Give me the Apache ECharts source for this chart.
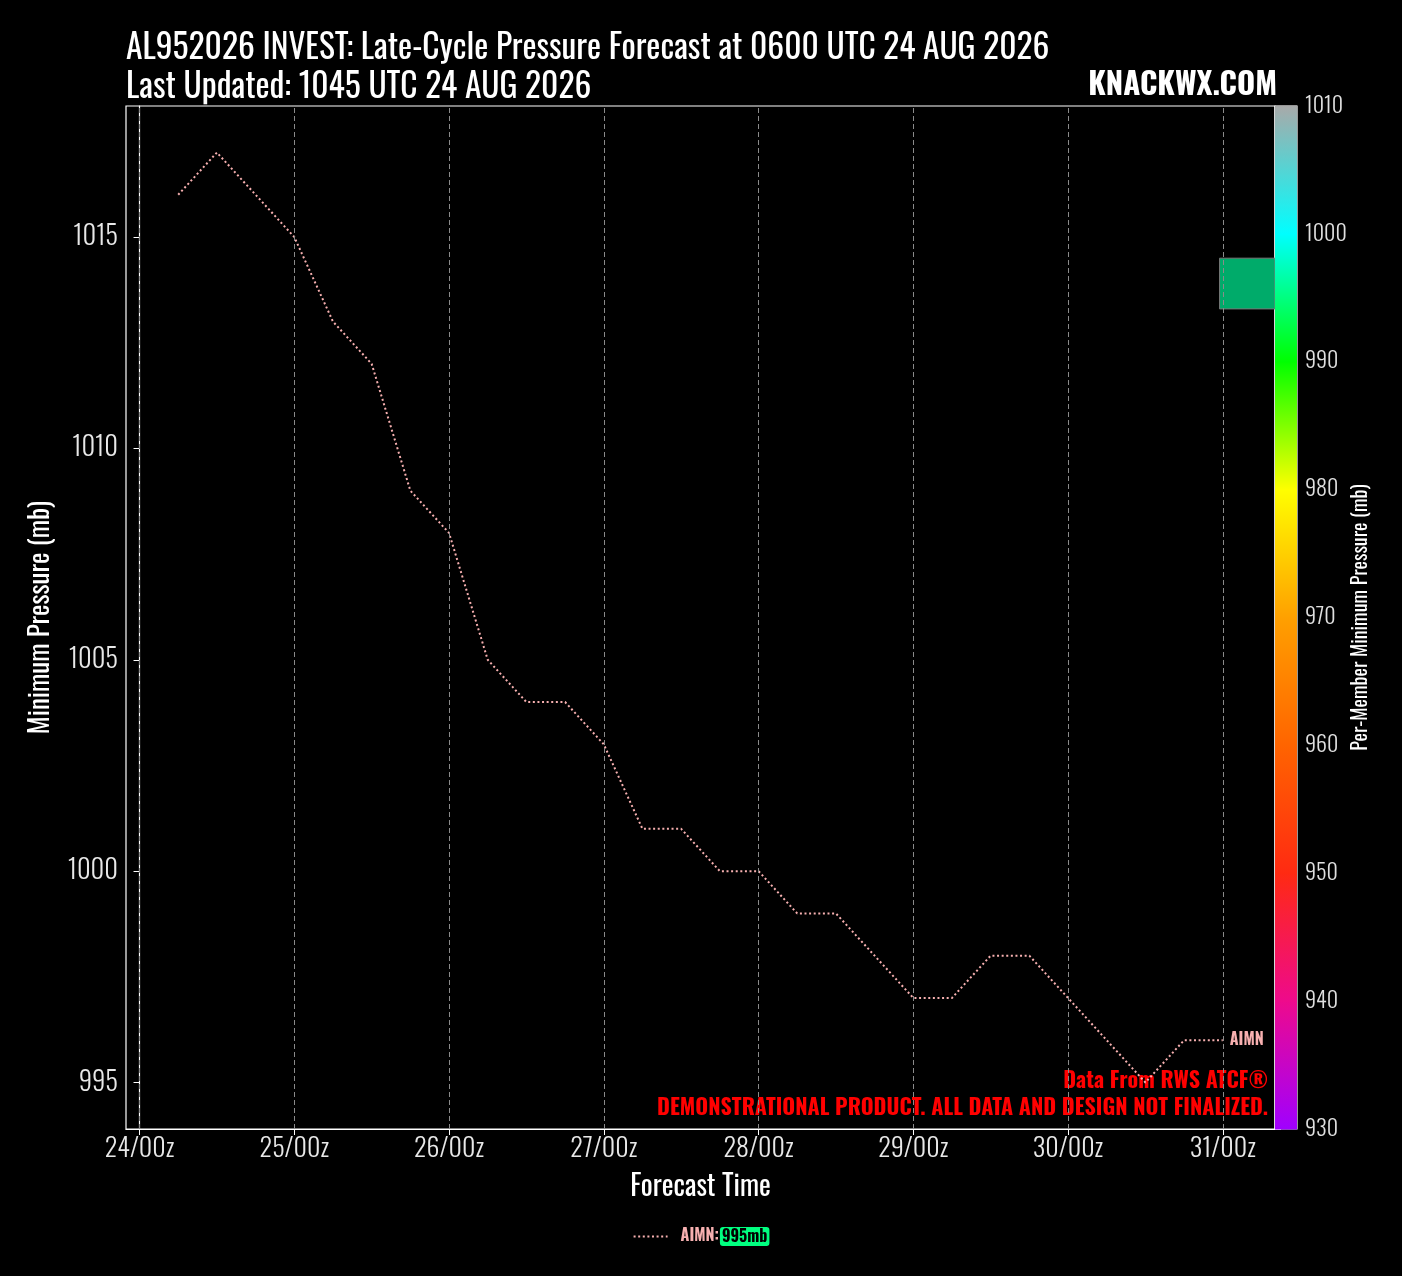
<!DOCTYPE html>
<html>
<head>
<meta charset="utf-8">
<script src="https://cdn.jsdelivr.net/npm/echarts@6/dist/echarts.min.js"></script>
<style>
  html, body { margin: 0; padding: 0; background: #000; }
  #chart { width: 1402px; height: 1276px; }
</style>
</head>
<body>
<div id="chart"></div>
<script>
// forecast hours from 24/00z and AIMN minimum pressure
var hours = [6, 12, 18, 24, 30, 36, 42, 48, 54, 60, 66, 72, 78, 84, 90, 96, 102, 108, 114, 120, 126, 132, 138, 144, 150, 156, 162, 168];
var pressure = [1016, 1017, 1016, 1015, 1013, 1012, 1009, 1008, 1005, 1004, 1004, 1003, 1001, 1001, 1000, 1000, 999, 999, 998, 997, 997, 998, 998, 997, 996, 995, 996, 996];

var tickHours = [0, 24, 48, 72, 96, 120, 144, 168];
var tickLabels = ['24/00z', '25/00z', '26/00z', '27/00z', '28/00z', '29/00z', '30/00z', '31/00z'];
var yTicks = [995, 1000, 1005, 1010, 1015];

// colour bar for per-member minimum pressure
var cbarStops = [930, 940, 950, 960, 970, 980, 990, 1000, 1010];
var cbarColors = ['#a000ff', '#ee0a8c', '#ff2a12', '#ff6400', '#ffa000', '#ffff00', '#00ff00', '#00ffff', '#a9a9a9'];

// shaded box next to the colour bar (hours, mb)
var boxHours = [167.5, 180];
var boxMb = [1013.3, 1014.5];

var FONT = "Oswald, 'Liberation Sans Narrow', 'DejaVu Sans Condensed', 'Roboto Condensed', sans-serif";
var LINE_COLOR = '#f7b0b0';

// matplotlib-like 5% margins
var xMin = Math.min.apply(null, hours), xMax = Math.max.apply(null, hours);
var yMin = Math.min.apply(null, pressure), yMax = Math.max.apply(null, pressure);
var xPad = (xMax - xMin) * 0.05, yPad = (yMax - yMin) * 0.05;

var seriesData = hours.map(function (h, i) { return [h, pressure[i]]; });
var minP = yMin;

var segs = [];
for (var i = 0; i < cbarStops.length - 1; i++) segs.push([i]);

var chart = echarts.init(document.getElementById('chart'));

var option = {
    backgroundColor: '#000',
    animation: false,
    textStyle: { fontFamily: FONT },
    title: {
        text: 'AL952026 INVEST: Late-Cycle Pressure Forecast at 0600 UTC 24 AUG 2026\nLast Updated: 1045 UTC 24 AUG 2026',
        left: 121, top: 24,
        textStyle: { color: '#fff', fontSize: 33.5, fontWeight: 'normal', lineHeight: 39, fontFamily: FONT }
    },
    legend: {
        left: 'center', top: 1222,
        itemWidth: 34, itemHeight: 14, itemGap: 10,
        data: ['AIMN'],
        itemStyle: { opacity: 0 },
        formatter: function () { return '{n|AIMN:}{v|' + minP + 'mb}'; },
        textStyle: {
            fontFamily: FONT,
            rich: {
                n: { color: LINE_COLOR, fontSize: 16, fontWeight: 'bold', fontFamily: FONT, padding: [0, 1, 0, 8] },
                v: { color: '#000', fontSize: 16, fontWeight: 'bold', fontFamily: FONT, backgroundColor: '#00ff80', borderRadius: 3, padding: [2, 2, 1, 2] }
            }
        }
    },
    grid: [
        { left: 126, top: 106, width: 1149, height: 1023, show: true, borderColor: '#fff', borderWidth: 1.2, backgroundColor: '#000' },
        { left: 1275, top: 106, width: 22, height: 1023, show: true, borderColor: '#fff', borderWidth: 1.2 }
    ],
    xAxis: [{
        type: 'value', gridIndex: 0,
        min: xMin - xPad, max: xMax + xPad,
        name: 'Forecast Time', nameLocation: 'middle', nameGap: 44,
        nameTextStyle: { color: '#fff', fontSize: 28, fontFamily: FONT },
        axisLine: { lineStyle: { color: '#fff', width: 1.2 } },
        axisTick: { show: true, length: 6, lineStyle: { color: '#fff' }, customValues: tickHours },
        axisLabel: {
            color: '#e8e8e8', fontSize: 26, fontWeight: 300, margin: 7, customValues: tickHours,
            formatter: function (v) { return tickLabels[tickHours.indexOf(v)]; }
        },
        splitLine: { show: false }
    }, {
        type: 'value', gridIndex: 1, min: 0, max: 1, show: false
    }],
    yAxis: [{
        type: 'value', gridIndex: 0,
        min: yMin - yPad, max: yMax + yPad,
        name: 'Minimum Pressure (mb)', nameLocation: 'middle', nameGap: 72,
        nameTextStyle: { color: '#fff', fontSize: 27, fontFamily: FONT },
        axisLine: { show: true, lineStyle: { color: '#fff', width: 1.2 } },
        axisTick: { show: true, length: 6, lineStyle: { color: '#fff' }, customValues: yTicks },
        axisLabel: {
            color: '#e8e8e8', fontSize: 26.5, fontWeight: 300, margin: 8, customValues: yTicks,
            formatter: function (v) { return String(v); }
        },
        splitLine: { show: false }
    }, {
        type: 'value', gridIndex: 1, position: 'right',
        min: cbarStops[0], max: cbarStops[cbarStops.length - 1], interval: 10,
        name: 'Per-Member Minimum Pressure (mb)', nameLocation: 'middle', nameGap: 50, nameRotate: 90,
        nameTextStyle: { color: '#fff', fontSize: 20, fontFamily: FONT },
        axisLine: { show: false },
        axisTick: { show: true, length: 6, lineStyle: { color: '#fff' } },
        axisLabel: {
            color: '#e0e0e0', fontSize: 22, fontWeight: 300, margin: 8,
            formatter: function (v) { return String(v); }
        },
        splitLine: { show: false }
    }],
    series: [{
        name: 'AIMN',
        type: 'line',
        xAxisIndex: 0, yAxisIndex: 0,
        data: seriesData,
        symbol: 'none',
        lineStyle: { color: LINE_COLOR, width: 2, type: [2, 2.6] },
        itemStyle: { color: LINE_COLOR },
        endLabel: {
            show: true, formatter: 'AIMN', distance: 7,
            color: LINE_COLOR, fontSize: 16, fontWeight: 'bold', fontFamily: FONT
        },
        markLine: {
            silent: true, symbol: 'none', label: { show: false },
            lineStyle: { color: '#8a8a8a', type: [5, 3], width: 1 },
            data: tickHours.map(function (h) { return { xAxis: h }; })
        },
        markArea: {
            silent: true,
            itemStyle: { color: 'rgba(0,178,110,0.96)', borderColor: '#777', borderWidth: 1 },
            data: [[{ coord: [boxHours[0], boxMb[1]] }, { coord: [xMax + xPad, boxMb[0]] }]]
        },
        z: 3
    }, {
        type: 'custom',
        xAxisIndex: 1, yAxisIndex: 1,
        data: segs,
        silent: true,
        renderItem: function (params, api) {
            var k = api.value(0);
            var lo = cbarStops[k], hi = cbarStops[k + 1];
            var p0 = api.coord([0, lo]);
            var p1 = api.coord([1, hi]);
            return {
                type: 'rect',
                shape: { x: p0[0], y: p1[1] - 0.5, width: p1[0] - p0[0], height: p0[1] - p1[1] + 1 },
                style: {
                    fill: {
                        type: 'linear', x: 0, y: 1, x2: 0, y2: 0,
                        colorStops: [{ offset: 0, color: cbarColors[k] }, { offset: 1, color: cbarColors[k + 1] }]
                    }
                }
            };
        }
    }],
    graphic: [{
        type: 'text', right: 1402 - 1277, top: 70,
        style: { text: 'KNACKWX.COM', fill: '#fff', font: 'bold 31px ' + FONT }
    }, {
        type: 'text', right: 1402 - 1268, top: 1070,
        style: { text: 'Data From RWS ATCF®', fill: '#ff0000', font: 'bold 22px ' + FONT }
    }, {
        type: 'text', right: 1402 - 1268, top: 1097,
        style: { text: 'DEMONSTRATIONAL PRODUCT. ALL DATA AND DESIGN NOT FINALIZED.', fill: '#ff0000', font: 'bold 22px ' + FONT }
    }]
};

chart.setOption(option);
</script>
</body>
</html>
